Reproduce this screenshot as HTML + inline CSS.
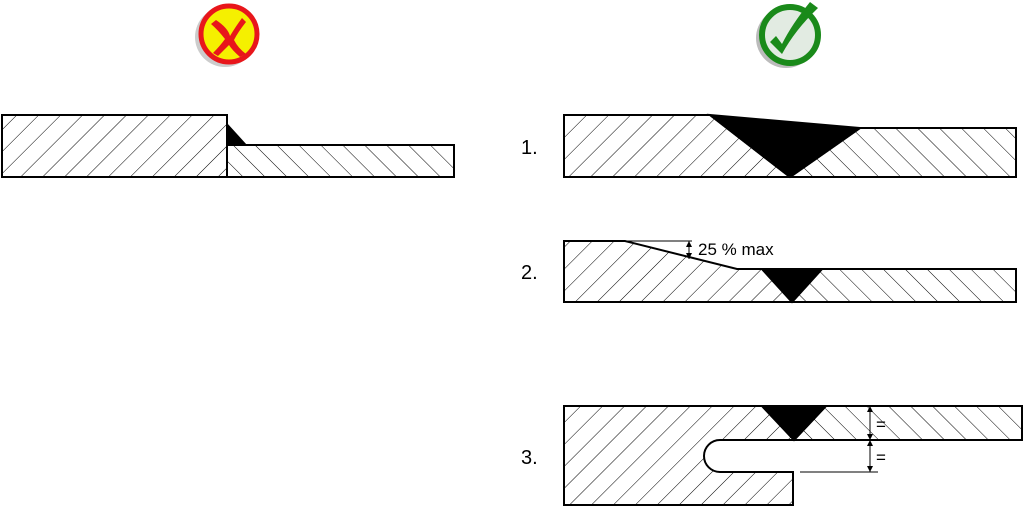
<!DOCTYPE html>
<html><head><meta charset="utf-8"><style>
html,body{margin:0;padding:0;background:#fff;}
svg{display:block;font-family:"Liberation Sans",sans-serif;}
</style></head><body>
<svg width="1024" height="506" viewBox="0 0 1024 506" xmlns="http://www.w3.org/2000/svg">
<defs>
<pattern id="hf" patternUnits="userSpaceOnUse" width="15.5" height="15.5" patternTransform="rotate(45)">
<line x1="0" y1="0" x2="0" y2="15.5" stroke="#000" stroke-width="1"/></pattern>
<pattern id="hb" patternUnits="userSpaceOnUse" width="15.5" height="15.5" patternTransform="rotate(-45)">
<line x1="0" y1="0" x2="0" y2="15.5" stroke="#000" stroke-width="1"/></pattern>
</defs>
<!-- icons -->
<circle cx="225" cy="37" r="30" fill="#ccc"/>
<circle cx="229" cy="34" r="28" fill="#f5f000" stroke="#e8161b" stroke-width="5"/>
<path d="M216 20 Q228 28 230 36 Q236 26 242 18 L246 22 Q238 32 234 40 Q238 48 246 54 L240 57 Q232 50 229 45 Q222 52 218 56 L213 53 Q220 46 225 39 Q218 30 211 24 Z" fill="#e8161b"/>
<circle cx="786" cy="38" r="30" fill="#bbb"/>
<circle cx="790" cy="35" r="28" fill="#e2ebe2" stroke="#1a8a1a" stroke-width="6"/>
<path d="M770 42 L782 54 Q795 30 818 8 L810 2 Q792 24 782 44 L776 36 Z" fill="#1a8a1a"/>
<g stroke="#000" stroke-width="2">
<rect x="2" y="115" width="225" height="62" fill="url(#hf)"/>
<rect x="227" y="145" width="227" height="32" fill="url(#hb)"/>
<polygon points="227,123 227,145 247,145" fill="#000" stroke="none"/>
<polygon points="564,115 710,115 790,177 564,177" fill="url(#hf)"/>
<polygon points="860,128 1016,128 1016,177 790,177" fill="url(#hb)"/>
<polygon points="710,115 860,128 790,177" fill="#000"/>
<polygon points="564,241 625,241 737,269 762,269 792,302 564,302" fill="url(#hf)"/>
<polygon points="822,269 1016,269 1016,302 792,302" fill="url(#hb)"/>
<polygon points="762,269 822,269 792,302" fill="#000"/>
<path d="M564,406 L762,406 L794,440 L720,440 A16,16 0 0 0 720,472 L793,472 L793,505 L564,505 Z" fill="url(#hf)"/>
<polygon points="826,406 1022,406 1022,440 794,440" fill="url(#hb)"/>
<polygon points="762,406 826,406 794,440" fill="#000"/>
</g>
<g stroke="#000" stroke-width="1" fill="none">
<line x1="625" y1="241" x2="692" y2="241"/>
<line x1="689" y1="241" x2="689" y2="259"/>
<line x1="870" y1="406" x2="870" y2="472"/>
<line x1="800" y1="472" x2="878" y2="472"/>
</g>
<g fill="#000">
<polygon points="689,241 686,247 692,247"/><polygon points="689,259 686,253 692,253"/>
<polygon points="870,406 867,412 873,412"/><polygon points="870,440 867,434 873,434"/>
<polygon points="870,440 867,446 873,446"/><polygon points="870,472 867,466 873,466"/>
</g>
<g font-size="20" fill="#000">
<text x="521" y="154">1.</text>
<text x="521" y="279">2.</text>
<text x="521" y="464">3.</text>
</g>
<text x="698" y="255" font-size="17">25 % max</text>
<text x="876" y="430" font-size="17">=</text>
<text x="876" y="463" font-size="17">=</text>
</svg>
</body></html>
